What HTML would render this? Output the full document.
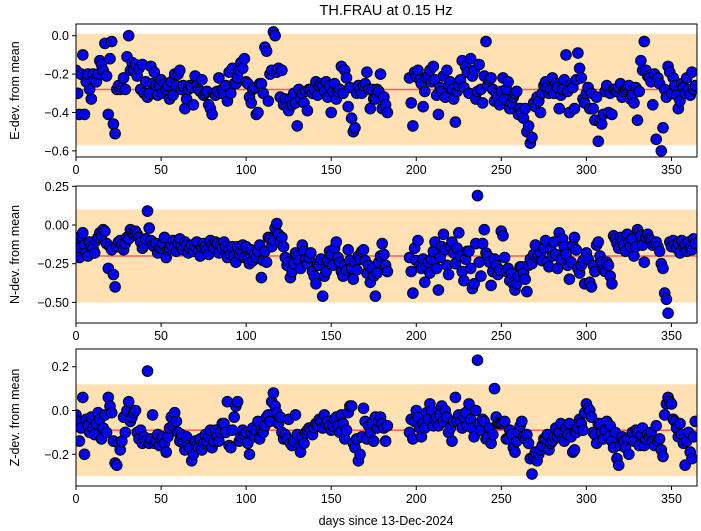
<!DOCTYPE html>
<html><head><meta charset="utf-8">
<style>
html,body{margin:0;padding:0;background:#fff;}
svg{display:block;font-family:"Liberation Sans","DejaVu Sans",sans-serif;}
</style></head>
<body>
<svg id="chart" width="701" height="531" viewBox="0 0 701 531"></svg>
<script>
const eVals=[-0.18,-0.30,-0.41,-0.20,-0.10,-0.41,-0.24,-0.20,-0.28,-0.33,
-0.20,-0.23,-0.24,-0.20,-0.13,-0.15,-0.18,-0.04,-0.21,-0.41,
-0.12,-0.03,-0.46,-0.51,-0.28,-0.26,-0.28,-0.27,-0.22,-0.28,
-0.11,0.00,-0.18,-0.14,-0.18,-0.15,-0.21,-0.17,-0.28,-0.15,
-0.30,-0.24,-0.32,-0.30,-0.16,-0.25,-0.19,-0.26,-0.31,-0.26,
-0.23,-0.30,-0.25,-0.28,-0.26,-0.33,-0.24,-0.31,-0.20,-0.26,
-0.20,-0.18,-0.28,-0.26,-0.38,-0.33,-0.28,-0.26,-0.27,-0.36,
-0.21,-0.26,-0.28,-0.29,-0.23,-0.31,-0.30,-0.29,-0.36,-0.38,
-0.41,-0.30,-0.31,-0.29,-0.22,-0.30,-0.28,-0.30,-0.26,-0.34,
-0.19,-0.30,-0.17,-0.25,-0.25,-0.22,-0.18,-0.14,-0.17,-0.12,
-0.24,-0.25,-0.32,-0.35,-0.28,-0.27,-0.41,-0.40,-0.25,-0.25,
-0.30,-0.06,-0.08,-0.34,-0.20,-0.18,0.02,0.00,-0.19,-0.17,
-0.32,-0.18,-0.36,-0.33,-0.37,-0.39,-0.33,-0.36,-0.30,-0.35,
-0.47,-0.28,-0.33,-0.30,-0.35,-0.29,-0.39,-0.28,-0.28,-0.30,
-0.28,-0.24,-0.31,-0.26,-0.25,-0.26,-0.29,-0.24,-0.32,-0.26,
-0.40,-0.29,-0.25,-0.33,-0.29,-0.28,-0.16,-0.30,-0.18,-0.22,
-0.37,-0.27,-0.43,-0.50,-0.48,-0.30,-0.26,-0.28,-0.30,-0.26,
-0.25,-0.19,-0.28,-0.38,-0.28,-0.33,-0.33,-0.28,-0.29,-0.20,
-0.38,-0.32,-0.36,-0.40,
-0.22,-0.35,-0.47,-0.19,-0.21,-0.18,-0.23,-0.25,-0.37,-0.29,
-0.22,-0.21,-0.18,-0.24,-0.16,-0.23,-0.31,-0.41,-0.27,-0.29,
-0.21,-0.32,-0.18,-0.26,-0.24,-0.28,-0.33,-0.45,-0.29,-0.26,
-0.23,-0.13,-0.27,-0.16,-0.19,-0.30,-0.12,-0.21,-0.18,-0.33,
-0.29,-0.15,-0.28,-0.35,-0.21,-0.03,-0.26,-0.23,-0.22,-0.28,
-0.34,-0.30,-0.32,-0.36,-0.29,-0.22,-0.33,-0.28,-0.24,-0.38,
-0.35,-0.32,-0.30,-0.29,-0.41,-0.38,-0.40,-0.43,-0.38,-0.50,
-0.47,-0.56,-0.53,-0.35,-0.37,-0.32,-0.34,-0.40,-0.30,-0.26,
-0.24,-0.27,-0.30,-0.28,-0.22,-0.30,-0.25,-0.27,-0.38,-0.31,
-0.28,-0.23,-0.10,-0.29,-0.40,-0.25,-0.27,-0.38,-0.23,-0.09,
-0.17,-0.22,-0.33,-0.35,-0.30,-0.27,-0.38,-0.30,-0.38,-0.44,
-0.32,-0.55,-0.45,-0.46,-0.41,-0.29,-0.26,-0.40,-0.30,-0.41,
-0.28,-0.28,-0.29,-0.27,-0.25,-0.32,-0.29,-0.28,-0.27,-0.26,
-0.33,-0.31,-0.35,-0.27,-0.44,-0.29,-0.13,-0.18,-0.03,-0.18,
-0.21,-0.22,-0.24,-0.36,-0.20,-0.54,-0.22,-0.25,-0.60,-0.48,
-0.28,-0.32,-0.16,-0.19,-0.30,-0.22,-0.26,-0.31,-0.38,-0.34,
-0.25,-0.27,-0.30,-0.22,-0.28,-0.31,-0.19,-0.28,-0.26];
const nVals=[-0.12,-0.15,-0.21,-0.07,-0.05,-0.13,-0.18,-0.20,-0.11,-0.14,
-0.15,-0.18,-0.10,-0.08,-0.05,-0.07,-0.03,-0.04,-0.12,-0.28,
-0.14,-0.16,-0.32,-0.40,-0.14,-0.11,-0.10,-0.12,-0.16,-0.12,
-0.08,-0.09,-0.03,-0.05,-0.06,-0.04,-0.06,-0.08,-0.11,-0.15,
-0.13,-0.09,0.09,-0.02,-0.10,-0.13,-0.14,-0.12,-0.18,-0.15,
-0.15,-0.12,-0.08,-0.21,-0.16,-0.15,-0.13,-0.10,-0.14,-0.17,
-0.12,-0.09,-0.14,-0.16,-0.11,-0.13,-0.18,-0.15,-0.13,-0.17,
-0.14,-0.11,-0.17,-0.20,-0.14,-0.12,-0.14,-0.16,-0.19,-0.10,
-0.13,-0.15,-0.11,-0.12,-0.18,-0.13,-0.15,-0.11,-0.14,-0.21,
-0.16,-0.19,-0.14,-0.20,-0.24,-0.14,-0.19,-0.17,-0.13,-0.21,
-0.14,-0.22,-0.25,-0.16,-0.23,-0.19,-0.21,-0.17,-0.13,-0.34,
-0.23,-0.17,-0.24,-0.08,-0.09,-0.14,-0.10,-0.02,0.01,-0.06,
-0.11,-0.08,-0.14,-0.21,-0.26,-0.24,-0.34,-0.30,-0.25,-0.18,
-0.20,-0.23,-0.28,-0.13,-0.17,-0.22,-0.25,-0.21,-0.18,-0.30,
-0.33,-0.38,-0.25,-0.26,-0.22,-0.46,-0.33,-0.30,-0.23,-0.17,
-0.19,-0.26,-0.15,-0.11,-0.21,-0.24,-0.30,-0.33,-0.26,-0.29,
-0.16,-0.23,-0.28,-0.35,-0.24,-0.29,-0.20,-0.22,-0.17,-0.16,
-0.23,-0.31,-0.26,-0.37,-0.28,-0.33,-0.46,-0.31,-0.24,-0.20,
-0.12,-0.19,-0.26,-0.30,
-0.21,-0.30,-0.44,-0.15,-0.23,-0.10,-0.26,-0.28,-0.22,-0.37,
-0.27,-0.24,-0.31,-0.22,-0.17,-0.11,-0.28,-0.42,-0.21,-0.14,
-0.06,-0.16,-0.26,-0.32,-0.14,-0.11,-0.18,-0.25,-0.15,-0.05,
-0.20,-0.30,-0.36,-0.22,-0.17,-0.17,-0.28,-0.41,-0.38,-0.12,
0.19,-0.24,-0.33,-0.12,-0.03,-0.18,-0.20,-0.24,-0.39,-0.30,
-0.22,-0.26,-0.32,-0.29,-0.04,-0.07,-0.21,-0.30,-0.28,-0.36,
-0.31,-0.38,-0.42,-0.38,-0.33,-0.27,-0.27,-0.31,-0.35,-0.43,
-0.26,-0.22,-0.25,-0.19,-0.13,-0.21,-0.20,-0.18,-0.23,-0.15,
-0.10,-0.24,-0.27,-0.16,-0.20,-0.11,-0.19,-0.28,-0.05,-0.22,
-0.09,-0.14,-0.19,-0.26,-0.35,-0.24,-0.13,-0.08,-0.16,-0.28,
-0.31,-0.26,-0.23,-0.38,-0.18,-0.22,-0.37,-0.40,-0.26,-0.30,
-0.13,-0.11,-0.20,-0.24,-0.29,-0.30,-0.24,-0.26,-0.33,-0.38,
-0.07,-0.09,-0.12,-0.15,-0.08,-0.10,-0.13,-0.17,-0.06,-0.11,
-0.14,-0.09,-0.20,-0.14,-0.03,-0.05,-0.07,-0.13,-0.24,-0.08,
-0.06,-0.09,-0.10,-0.13,-0.12,-0.11,-0.14,-0.17,-0.25,-0.28,
-0.44,-0.48,-0.57,-0.11,-0.14,-0.10,-0.13,-0.15,-0.12,-0.18,
-0.10,-0.14,-0.13,-0.17,-0.11,-0.15,-0.16,-0.09,-0.12];
const zVals=[-0.02,-0.05,-0.14,-0.08,0.06,-0.20,-0.04,-0.07,-0.10,-0.03,
-0.08,-0.11,-0.06,-0.01,-0.04,-0.13,-0.08,-0.02,-0.10,0.06,
0.02,-0.01,-0.14,-0.24,-0.25,-0.15,-0.18,-0.14,-0.03,-0.10,
0.00,0.04,-0.05,-0.03,-0.01,0.00,-0.10,-0.13,-0.09,-0.15,
-0.12,-0.14,0.18,-0.15,-0.13,-0.02,-0.15,-0.14,-0.11,-0.16,
-0.13,-0.12,-0.15,-0.19,-0.12,-0.08,-0.03,-0.07,-0.01,-0.05,
-0.10,-0.14,-0.11,-0.15,-0.18,-0.12,-0.16,-0.17,-0.23,-0.20,
-0.14,-0.16,-0.17,-0.13,-0.18,-0.15,-0.11,-0.14,-0.12,-0.09,
-0.17,-0.14,-0.09,-0.12,-0.14,-0.10,-0.06,-0.06,-0.10,0.04,
-0.16,-0.17,-0.09,-0.03,0.02,0.04,-0.14,-0.12,-0.09,-0.11,
-0.10,-0.15,-0.20,-0.10,-0.08,-0.12,-0.09,-0.05,-0.13,-0.09,
-0.10,-0.07,-0.03,-0.02,-0.05,0.04,0.08,0.02,-0.01,-0.06,
-0.03,-0.10,-0.13,-0.11,-0.13,-0.04,-0.15,-0.16,-0.14,-0.02,
-0.11,-0.17,-0.19,-0.12,-0.15,-0.10,-0.09,-0.08,-0.09,-0.11,
-0.08,-0.06,-0.07,-0.04,-0.05,-0.08,-0.02,-0.06,-0.05,-0.07,
-0.09,-0.07,-0.04,-0.03,-0.07,-0.10,-0.02,-0.06,-0.13,-0.09,
-0.01,0.02,0.02,-0.15,-0.17,-0.13,-0.23,-0.20,-0.12,0.01,
-0.05,-0.13,-0.07,-0.10,-0.06,-0.14,-0.03,-0.08,-0.05,-0.03,
-0.06,-0.08,-0.14,-0.07,
-0.10,-0.04,-0.13,-0.05,0.00,-0.03,-0.08,-0.12,-0.06,-0.08,
-0.01,-0.04,0.03,0.00,-0.07,-0.04,-0.03,-0.07,-0.02,0.02,
-0.05,0.00,-0.03,-0.10,-0.08,-0.14,-0.05,0.06,-0.05,-0.02,
-0.05,-0.08,-0.03,-0.01,-0.07,0.03,-0.04,-0.08,-0.12,0.00,
0.23,-0.06,-0.09,-0.04,-0.05,-0.13,-0.12,-0.08,-0.15,-0.11,
0.10,-0.03,-0.06,-0.06,-0.06,-0.06,-0.05,-0.13,-0.13,-0.09,
-0.11,-0.17,-0.19,-0.14,-0.10,-0.07,-0.05,-0.12,-0.13,-0.11,
-0.15,-0.22,-0.29,-0.21,-0.19,-0.23,-0.20,-0.18,-0.16,-0.13,
-0.13,-0.11,-0.18,-0.15,-0.14,-0.12,-0.08,-0.12,-0.10,-0.06,
-0.13,-0.14,-0.08,-0.11,-0.06,-0.12,-0.19,-0.18,-0.10,-0.08,
-0.04,-0.06,-0.09,-0.01,0.03,0.01,0.00,-0.03,-0.10,-0.11,
-0.15,-0.06,-0.06,-0.10,-0.13,-0.09,-0.05,-0.12,-0.07,-0.14,
-0.17,-0.10,-0.22,-0.25,-0.16,-0.12,-0.14,-0.17,-0.13,-0.20,
-0.13,-0.10,-0.14,-0.09,-0.10,-0.16,-0.11,-0.08,-0.16,-0.13,
-0.11,-0.12,-0.10,-0.14,-0.16,-0.07,-0.14,-0.13,-0.18,-0.21,
-0.02,0.03,0.06,0.04,0.03,-0.04,-0.05,-0.08,-0.12,-0.06,
-0.11,-0.15,-0.25,-0.14,-0.10,-0.19,-0.22,-0.12,-0.05];
const firstRunStart=0, firstRunEnd=183, secondRunStart=196, secondRunEnd=364;
const days=[];
for(let d=firstRunStart; d<=firstRunEnd; d++) days.push(d);
for(let d=secondRunStart; d<=secondRunEnd; d++) days.push(d);
const xTicks=[0,50,100,150,200,250,300,350];
const eTicks=[0.0,-0.2,-0.4,-0.6];
const eTickLabels=["0.0","\u22120.2","\u22120.4","\u22120.6"];
const nTicks=[0.25,0,-0.25,-0.5];
const nTickLabels=["0.25","0.00","\u22120.25","\u22120.50"];
const zTicks=[0.2,0,-0.2];
const zTickLabels=["0.2","0.0","\u22120.2"];
const eStats=[-0.28,0.29];
const nStats=[-0.20,0.30];
const zStats=[-0.09,0.21];

const NS="http://www.w3.org/2000/svg";
const svg=document.getElementById('chart');
function mk(tag,attrs,parent){const el=document.createElementNS(NS,tag);for(const k in attrs)el.setAttribute(k,attrs[k]);(parent||svg).appendChild(el);return el;}
const X0=76,X1=697,DMIN=0,DMAX=365;
function xs(d){return X0+(d-DMIN)/(DMAX-DMIN)*(X1-X0);}

const panels=[
 {name:'e',vals:eVals,stats:eStats,ticks:eTicks,labels:eTickLabels,top:24,bot:157,vmax:0.061,vmin:-0.632,ylabel:'E-dev. from mean'},
 {name:'n',vals:nVals,stats:nStats,ticks:nTicks,labels:nTickLabels,top:186,bot:323,vmax:0.252,vmin:-0.633,ylabel:'N-dev. from mean'},
 {name:'z',vals:zVals,stats:zStats,ticks:zTicks,labels:zTickLabels,top:349,bot:486,vmax:0.281,vmin:-0.345,ylabel:'Z-dev. from mean'}
];

const title=mk('text',{x:386,y:15,'text-anchor':'middle','font-size':'14.5'});
title.textContent='TH.FRAU at 0.15 Hz';



panels.forEach((p,pi)=>{
  const g=mk('g',{});
  
  
  const ys=v=>p.top+(p.vmax-v)/(p.vmax-p.vmin)*(p.bot-p.top);
  const clipId='clip'+pi;
  const cp=mk('clipPath',{id:clipId},g);
  mk('rect',{x:X0,y:p.top,width:X1-X0,height:p.bot-p.top},cp);
  const band=mk('rect',{x:X0,y:ys(p.stats[0]+p.stats[1]),width:X1-X0,height:ys(p.stats[0]-p.stats[1])-ys(p.stats[0]+p.stats[1]),fill:'#ffe1b3','clip-path':'url(#'+clipId+')'},g);
  
  
  const ml=mk('line',{x1:X0,x2:X1,y1:ys(p.stats[0]),y2:ys(p.stats[0]),stroke:'#ff5b5b','stroke-width':1.5},g);
  
  
  const pts=mk('g',{'clip-path':'url(#'+clipId+')'},g);
  
  
  p.vals.forEach((v,i)=>{
    const c=mk('circle',{cx:xs(days[i]).toFixed(1),cy:ys(v).toFixed(1),r:5.3,fill:'#0000ff',stroke:'#000','stroke-width':1},pts);
    
    
  });
  const frame=mk('rect',{x:X0,y:p.top,width:X1-X0,height:p.bot-p.top,fill:'none',stroke:'#000','stroke-width':1},g);
  
  
  p.ticks.forEach((t,i)=>{
    const y=ys(t);
    mk('line',{x1:X0-4,x2:X0,y1:y,y2:y,stroke:'#000','stroke-width':1},g);
    const tl=mk('text',{x:X0-7,y:y+4.5,'text-anchor':'end','font-size':'12.5'},g);
    tl.textContent=p.labels[i];
    
    
  });
  xTicks.forEach(t=>{
    const x=xs(t);
    mk('line',{x1:x,x2:x,y1:p.bot,y2:p.bot+4,stroke:'#000','stroke-width':1},g);
    const tl=mk('text',{x:x,y:p.bot+17,'text-anchor':'middle','font-size':'12.5'},g);
    tl.textContent=String(t);
    
    
  });
  const cy=(p.top+p.bot)/2;
  const yl=mk('text',{x:0,y:0,'text-anchor':'middle','font-size':'12.5',transform:'translate(19,'+cy+') rotate(-90)'},g);
  yl.textContent=p.ylabel;
  
  
});
const xl=mk('text',{x:386,y:525,'text-anchor':'middle','font-size':'12.5'});
xl.textContent='days since 13-Dec-2024';


</script>
</body></html>
